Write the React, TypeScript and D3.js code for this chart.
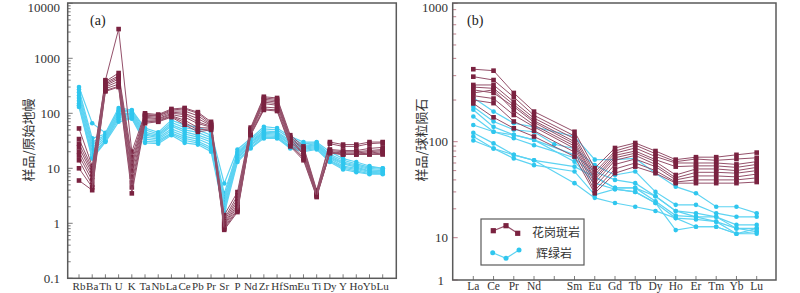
import React from "react";
import * as d3 from "d3";

const leftCats = ["Rb","Ba","Th","U","K","Ta","Nb","La","Ce","Pb","Pr","Sr","P","Nd","Zr","Hf","Sm","Eu","Ti","Dy","Y","Ho","Yb","Lu"];
const rightCats = ["La","Ce","Pr","Nd","Pm","Sm","Eu","Gd","Tb","Dy","Ho","Er","Tm","Yb","Lu"];
const rightLabels = ["La","Ce","Pr","Nd","","Sm","Eu","Gd","Tb","Dy","Ho","Er","Tm","Yb","Lu"];

const leftTicks = [0.1, 1, 10, 100, 1000, 10000];
const rightTicks = [1, 10, 100, 1000];

// Primitive-mantle normalised spider diagram (a)
const leftGranite: number[][] = [
  [53, 11, 400, 3400, 20, 100, 95, 120, 125, 105, 70, 1.4, 3.7, 55, 200, 190, 40, 25, 4.0, 30, 27, 27, 30, 30],
  [34, 10, 380, 540, 16, 95, 92, 115, 120, 100, 65, 1.2, 3.2, 52, 190, 180, 37, 23, 3.8, 28, 25, 25, 28, 29],
  [28, 9, 360, 480, 13, 92, 90, 110, 110, 90, 62, 1.1, 2.8, 50, 180, 170, 35, 22, 3.6, 22, 21, 21, 23, 24],
  [24, 8, 340, 450, 11, 88, 85, 105, 100, 80, 60, 1.0, 2.5, 48, 170, 160, 33, 20, 3.5, 21, 20, 20, 21, 22],
  [20, 7, 320, 420, 9, 85, 80, 100, 95, 70, 58, 0.95, 2.2, 46, 160, 150, 31, 19, 3.4, 20, 19, 19, 20, 21],
  [17, 6, 300, 380, 7, 80, 78, 95, 85, 65, 56, 0.9, 2.0, 44, 150, 140, 30, 18, 3.3, 20, 18, 18, 19, 20],
  [14, 5, 280, 340, 5.5, 75, 75, 90, 75, 55, 54, 0.85, 1.8, 42, 130, 125, 28, 16, 3.2, 19, 18, 18, 18, 19],
  [10, 4.5, 260, 310, 4.5, 70, 72, 88, 68, 50, 52, 0.8, 1.7, 41, 120, 115, 26, 15, 3.1, 19, 18, 18, 18, 18],
  [6, 4, 250, 300, 3.5, 66, 70, 85, 62, 46, 50, 0.76, 1.6, 40, 115, 110, 25, 14, 3.0, 19, 18, 18, 18, 18],
];
const leftDiabase: number[][] = [
  [300, 66, 44, 125, 115, 54, 45, 75, 61, 56, 46, 5.3, 22, 35, 57, 54, 38, 30, 30, 20, 15, 13, 11, 10],
  [270, 35, 42, 115, 110, 50, 42, 68, 55, 50, 40, 3.5, 20, 33, 52, 50, 35, 28, 29, 18, 14, 12, 10.5, 10],
  [240, 30, 40, 110, 105, 45, 40, 62, 50, 45, 36, 3.0, 19, 31, 48, 46, 32, 26, 28, 17, 13, 11.5, 10, 9.5],
  [210, 27, 38, 100, 100, 42, 38, 58, 46, 40, 33, 2.7, 18, 30, 45, 44, 30, 25, 27, 16, 12.5, 11, 9.5, 9],
  [190, 24, 36, 95, 95, 40, 36, 52, 42, 37, 30, 2.4, 17, 29, 43, 42, 28, 24, 26, 15.5, 12, 10.5, 9, 9],
  [170, 21, 34, 90, 90, 37, 34, 48, 38, 34, 27, 2.1, 16, 27, 41, 40, 27, 23, 25, 15, 11, 10, 8.8, 8.6],
  [150, 18, 32, 85, 86, 34, 32, 44, 35, 31, 24, 1.9, 15, 26, 39, 38, 25, 22, 24, 14, 10.5, 9.5, 8.4, 8.3],
  [140, 16, 31, 78, 82, 31, 30, 42, 32, 29, 22, 1.7, 14, 24, 37, 36, 24, 21, 23, 13.5, 10, 9, 8, 8],
  [130, 15, 30, 70, 80, 29, 28, 40, 29, 27, 20, 1.5, 13, 23, 35, 35, 23, 20, 22, 13, 9.5, 8.5, 7.8, 7.8],
];

// Chondrite-normalised REE (b)
const rightGranite: (number | null)[][] = [
  [334, 326, 225, 165, null, 118, 53, 86, 97, 80, 65, 69, 69, 73, 77],
  [295, 279, 210, 155, null, 110, 48, 80, 92, 75, 62, 66, 64, 66, 68],
  [257, 257, 194, 148, null, 105, 45, 76, 86, 70, 60, 60, 60, 58, 62],
  [248, 243, 185, 142, null, 100, 42, 72, 80, 65, 55, 56, 56, 54, 58],
  [237, 225, 179, 138, null, 95, 40, 68, 76, 62, 45, 52, 52, 50, 54],
  [225, 237, 168, 132, null, 90, 37, 64, 72, 58, 42, 48, 48, 47, 50],
  [215, 205, 156, 128, null, 85, 34, 58, 66, 55, 40, 44, 44, 43, 46],
  [200, 190, 140, 120, null, 78, 31, 52, 60, 50, 38, 40, 40, 40, 42],
  [189, 150, 125, 109, null, 70, 29, 47, 55, 47, 37, 37, 37, 37, 38],
];
const rightDiabase: (number | null)[][] = [
  [208, 165, 136, 128, null, 109, 65, 65, 67, 47, 34, 29, 21, 21, 18],
  [179, 140, 122, 118, 94, 85, 57, 45, 49, 30, 22, 22, 18, 16.5, 16.5],
  [170, 128, 112, 103, null, 73, 49, 40, 37, 27, 19, 18, 16.5, 13.6, 13.6],
  [152, 118, 106, 92, null, 68, 43, 33, 33, 24, 17, 16.5, 16.5, 12.5, 12.5],
  [132, 118, 112, 103, null, 62, 37, 32, 30, 23, 16, 15.5, 14.7, 12.5, 11.6],
  [116, 96, 73, 64, null, 55, 43, 33, 33, 27, 19, 16.5, 14.7, 11, 11.6],
  [109, 85, 67, 57, null, 49, 28, 32, 30, 23, 12, 13, 13, 11, 12.5],
  [102, 85, 73, 64, null, 37, 26, 23, 21, 19, 16, 13, 13, 11, 11],
];

const MAROON_LINE = "#94506a";
const MAROON = "#7a2240";
const CYAN_LINE = "#5dd3f2";
const CYAN = "#2fc6ee";
const FRAME = "#5a5a5a";
const SERIF = "'Liberation Serif', 'DejaVu Serif', serif";
const CJK = "'Noto Sans CJK SC', sans-serif";

export default function App() {
  // left panel scales
  const xL = d3.scalePoint<string>().domain(leftCats).range([79, 382.7]);
  const yL = d3.scaleLog().domain([0.1, 10000]).range([278.3, 3.3]);
  // right panel scales (piecewise on log10 as in the original figure)
  const xR = d3.scalePoint<string>().domain(rightCats).range([473.3, 756.7]);
  const yRlin = d3.scaleLinear().domain([0, 1, 2, 3]).range([280, 237.7, 141.7, 3.3]);
  const yR = (v: number) => yRlin(Math.log10(v));

  const lineL = d3
    .line<number>()
    .x((_, i) => xL(leftCats[i]) as number)
    .y((v) => yL(v));

  const lineR = (vals: (number | null)[]) => {
    const pts = vals
      .map((v, i) => (v == null ? null : ([xR(rightCats[i]) as number, yR(v)] as [number, number])))
      .filter((p): p is [number, number] => p !== null);
    return d3.line()(pts) as string;
  };

  const leftMinor: number[] = [];
  for (let e = -1; e < 4; e++) for (let k = 1; k < 10; k++) leftMinor.push(k * Math.pow(10, e));
  leftMinor.push(10000);
  const rightMinor: number[] = [];
  for (let e = 1; e < 3; e++) for (let k = 1; k < 10; k++) rightMinor.push(k * Math.pow(10, e));
  rightMinor.push(1000, 1);

  const sq = 4.6;

  const yLeft0 = yL(0.1);
  const yRight0 = yRlin(0);

  return (
    <svg width={800} height={293} style={{ position: "absolute", left: 0, top: 0, background: "#fff" }}>
      {/* ---------- Panel (a) ---------- */}
      <g>
        {leftMinor.map((t, i) => {
          const major = leftTicks.includes(t);
          return (
            <line key={"lm" + i} x1={67.7} x2={67.7 + (major ? 5 : 3)} y1={yL(t)} y2={yL(t)} stroke={FRAME} strokeWidth={0.8} />
          );
        })}
        {leftTicks.map((t) => (
          <text key={"lt" + t} x={60} y={Math.max(yL(t), 7)} dy="0.35em" textAnchor="end" fontFamily={SERIF} fontSize={13} fill="#333">
            {String(t)}
          </text>
        ))}
        {leftCats.map((c) => (
          <g key={"lx" + c}>
            <line x1={xL(c)} x2={xL(c)} y1={yLeft0} y2={yLeft0 - 4} stroke={FRAME} strokeWidth={0.8} />
            <text x={xL(c)} y={289.5} textAnchor="middle" fontFamily={SERIF} fontSize={11} fill="#333">
              {c}
            </text>
          </g>
        ))}
        {leftDiabase.map((s, i) => (
          <g key={"ld" + i}>
            <path d={lineL(s) as string} fill="none" stroke={CYAN_LINE} strokeWidth={1.2} />
            {s.map((v, j) => (
              <circle key={j} cx={xL(leftCats[j])} cy={yL(v)} r={2.3} fill={CYAN} />
            ))}
          </g>
        ))}
        {leftGranite.map((s, i) => (
          <g key={"lg" + i}>
            <path d={lineL(s) as string} fill="none" stroke={MAROON_LINE} strokeWidth={1} />
            {s.map((v, j) => (
              <rect key={j} x={(xL(leftCats[j]) as number) - sq / 2} y={yL(v) - sq / 2} width={sq} height={sq} fill={MAROON} />
            ))}
          </g>
        ))}
        <rect x={67.7} y={3} width={328.6} height={275.3} fill="none" stroke={FRAME} strokeWidth={1.5} />
        <text x={90} y={25} fontFamily={SERIF} fontSize={14} fill="#222">(a)</text>
        <text
          transform="translate(28,140) rotate(-90)"
          textAnchor="middle"
          dy="0.35em"
          fontFamily={CJK}
          fontSize={13}
          fill="#333"
        >
          样品/原始地幔
        </text>
      </g>

      {/* ---------- Panel (b) ---------- */}
      <g>
        {rightMinor.map((t, i) => {
          const major = rightTicks.includes(t);
          return (
            <line key={"rm" + i} x1={452.7} x2={452.7 + (major ? 5 : 3.5)} y1={yR(t)} y2={yR(t)} stroke="#b06070" strokeWidth={0.8} />
          );
        })}
        {rightTicks.map((t) => (
          <text key={"rt" + t} x={t === 1 ? 444 : 448} y={Math.max(yR(t), 7)} dy="0.35em" textAnchor="end" fontFamily={SERIF} fontSize={13} fill="#333">
            {String(t)}
          </text>
        ))}
        {rightCats.map((c, i) => (
          <g key={"rx" + c}>
            <line x1={xR(c)} x2={xR(c)} y1={yRight0} y2={yRight0 - 4} stroke={FRAME} strokeWidth={0.8} />
            <text x={xR(c)} y={290} textAnchor="middle" fontFamily={SERIF} fontSize={11.5} fill="#333">
              {rightLabels[i]}
            </text>
          </g>
        ))}
        {rightDiabase.map((s, i) => (
          <g key={"rd" + i}>
            <path d={lineR(s)} fill="none" stroke={CYAN_LINE} strokeWidth={1.2} />
            {s.map((v, j) =>
              v == null ? null : <circle key={j} cx={xR(rightCats[j])} cy={yR(v)} r={2.3} fill={CYAN} />
            )}
          </g>
        ))}
        {rightGranite.map((s, i) => (
          <g key={"rg" + i}>
            <path d={lineR(s)} fill="none" stroke={MAROON_LINE} strokeWidth={1} />
            {s.map((v, j) =>
              v == null ? null : (
                <rect key={j} x={(xR(rightCats[j]) as number) - sq / 2} y={yR(v) - sq / 2} width={sq} height={sq} fill={MAROON} />
              )
            )}
          </g>
        ))}
        <rect x={452.7} y={3} width={323.3} height={277} fill="none" stroke={FRAME} strokeWidth={1.5} />
        <text x={467} y={25} fontFamily={SERIF} fontSize={14} fill="#222">(b)</text>
        <text
          transform="translate(421,140) rotate(-90)"
          textAnchor="middle"
          dy="0.35em"
          fontFamily={CJK}
          fontSize={13}
          fill="#333"
        >
          样品/球粒陨石
        </text>

        {/* legend */}
        <rect x={481} y={219} width={103} height={46} fill="#fff" stroke={FRAME} strokeWidth={1.2} />
        <path d="M493.3,230.7L506,225.7L517.7,233.3" fill="none" stroke={MAROON_LINE} strokeWidth={1.2} />
        {[[493.3, 230.7], [506, 225.7], [517.7, 233.3]].map(([x, y], i) => (
          <rect key={"lgm" + i} x={x - 2.6} y={y - 2.6} width={5.2} height={5.2} fill={MAROON} />
        ))}
        <text x={532} y={233} dy="0.35em" fontFamily={CJK} fontSize={12} fill="#333">花岗斑岩</text>
        <path d="M492.7,252.7L506,258.3L519,250" fill="none" stroke={CYAN_LINE} strokeWidth={1.2} />
        {[[492.7, 252.7], [506, 258.3], [519, 250]].map(([x, y], i) => (
          <circle key={"lgc" + i} cx={x} cy={y} r={2.5} fill={CYAN} />
        ))}
        <text x={536} y={254} dy="0.35em" fontFamily={CJK} fontSize={12} fill="#333">辉绿岩</text>
      </g>
    </svg>
  );
}
